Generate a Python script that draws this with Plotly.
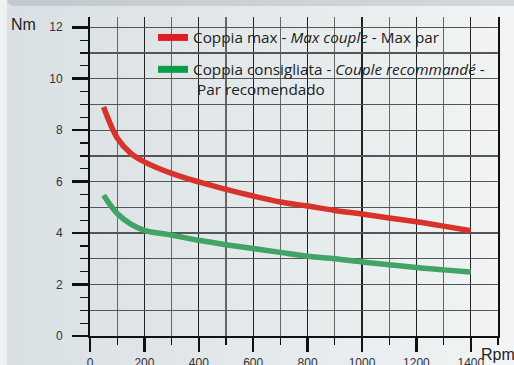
import base64
import plotly.graph_objects as go

# ---- data ----
rpm = [50, 100, 150, 200, 300, 400, 500, 600, 700, 800, 900, 1000, 1100, 1200, 1300, 1400]
coppia_max = [8.9, 7.7, 7.1, 6.77, 6.32, 5.99, 5.70, 5.44, 5.21, 5.05, 4.88, 4.74, 4.59, 4.44, 4.27, 4.09]
coppia_cons = [5.47, 4.76, 4.35, 4.11, 3.92, 3.72, 3.55, 3.40, 3.25, 3.10, 3.00, 2.88, 2.77, 2.66, 2.57, 2.49]
x_ticks = [0, 200, 400, 600, 800, 1000, 1200, 1400]
y_ticks = [0, 2, 4, 6, 8, 10, 12]
name_max = "Coppia max - <i>Max couple</i> - Max par"
name_cons = "Coppia consigliata - <i>Couple recommandé</i> -<br> Par recomendado"

W, H = 514, 365
ML, MR, MT, MB = 90, 16, 17, 29
PW, PH = W - ML - MR, H - MT - MB

# background gradient image
svg = f'''<svg xmlns="http://www.w3.org/2000/svg" width="{W}" height="{H}" viewBox="0 0 {W} {H}" preserveAspectRatio="none">
<defs>
<linearGradient id="g" x1="0" y1="0" x2="1" y2="0">
<stop offset="0" stop-color="#d9e0e3"/><stop offset="0.5" stop-color="#e4e9eb"/><stop offset="1" stop-color="#f2f4f5"/>
</linearGradient>
<linearGradient id="t" x1="0" y1="0" x2="1" y2="0">
<stop offset="0" stop-color="#c2c9ce"/><stop offset="1" stop-color="#d3d8db"/>
</linearGradient>
</defs>
<rect x="0" y="0" width="{W}" height="{H}" fill="#eff2f3"/>
<rect x="7" y="0" width="{W}" height="{H}" fill="url(#g)"/>
<rect x="7" y="-10" width="{W}" height="16" rx="7" fill="url(#t)"/>
</svg>'''
src = "data:image/svg+xml;base64," + base64.b64encode(svg.encode()).decode()

fig = go.Figure()
fig.add_trace(go.Scatter(x=rpm, y=coppia_max, mode="lines", line=dict(color="#d8332a", width=5.5, shape="spline"),
                         showlegend=False, hoverinfo="skip"))
fig.add_trace(go.Scatter(x=rpm, y=coppia_cons, mode="lines", line=dict(color="#41a365", width=5.5, shape="spline"),
                         showlegend=False, hoverinfo="skip"))
# legend entries
fig.add_trace(go.Scatter(x=[None], y=[None], mode="lines", name=name_max, legendgroup="a",
                         line=dict(color="#e31d25", width=7)))
fig.add_trace(go.Scatter(x=[None], y=[None], mode="lines", name=name_cons, legendgroup="b",
                         line=dict(color="#0c9c4b", width=7)))
# helper for odd horizontal gridlines
fig.add_trace(go.Scatter(x=[None], y=[None], yaxis="y2", showlegend=False, hoverinfo="skip"))

axfont = dict(family="Liberation Sans, Arial, sans-serif", size=12, color="#333")
fig.update_layout(
    width=W, height=H,
    margin=dict(l=ML, r=MR, t=MT, b=MB, autoexpand=False),
    paper_bgcolor="rgba(0,0,0,0)", plot_bgcolor="rgba(0,0,0,0)",
    hovermode=False,
    images=[dict(source=src, xref="paper", yref="paper", x=-ML / PW, y=1 + MT / PH,
                 sizex=W / PW, sizey=H / PH, sizing="stretch", layer="below", xanchor="left", yanchor="top")],
    xaxis=dict(range=[0, 1500], tickvals=x_ticks, ticks="outside", ticklen=14, tickwidth=2.5, tickcolor="#111",
               showgrid=True, gridcolor="#222", gridwidth=1.3, showline=True, linecolor="#111", linewidth=2,
               zeroline=False, tickfont=axfont, ticklabelstandoff=1, automargin=False,
               minor=dict(dtick=100, tick0=0, ticks="outside", ticklen=7, tickwidth=1.2, tickcolor="#111",
                          showgrid=True, gridcolor="#666", gridwidth=1.3)),
    yaxis=dict(range=[0, 12.4], tickvals=y_ticks, ticks="outside", ticklen=16, tickwidth=2.5, tickcolor="#111",
               showgrid=True, gridcolor="#222", gridwidth=1.3, showline=True, linecolor="#111", linewidth=2,
               mirror=True, zeroline=False, tickfont=axfont, ticklabelstandoff=7, automargin=False,
               minor=dict(dtick=0.5, tick0=0, ticks="outside", ticklen=8, tickwidth=1.2, tickcolor="#111",
                          showgrid=False)),
    yaxis2=dict(range=[0, 12.4], overlaying="y", dtick=1, showgrid=True, gridcolor="#555", gridwidth=1.3,
                showticklabels=False, ticks="", zeroline=False, showline=False, automargin=False),
    legend=dict(x=(153 - ML) / PW, y=(PH + MT - 21) / PH, xanchor="left", yanchor="top", valign="top",
                bgcolor="rgba(0,0,0,0)", borderwidth=0, tracegroupgap=9,
                font=dict(family="Open Sans, sans-serif", size=15.3, color="#222")),
    annotations=[
        dict(text="Nm", xref="paper", yref="paper", x=(9 - ML) / PW, y=(PH + MT - 24.5) / PH,
             xanchor="left", yanchor="middle", showarrow=False,
             font=dict(family="Liberation Sans, Arial, sans-serif", size=16, color="#222")),
        dict(text="Rpm", xref="paper", yref="paper", x=(479 - ML) / PW, y=(PH + MT - 354) / PH,
             xanchor="left", yanchor="middle", showarrow=False,
             font=dict(family="Liberation Sans, Arial, sans-serif", size=16, color="#222")),
    ],
)
fig.write_html("out.html", config={"displayModeBar": False, "staticPlot": True},
               post_script="document.body.style.margin='0px';document.body.style.overflow='hidden';")
